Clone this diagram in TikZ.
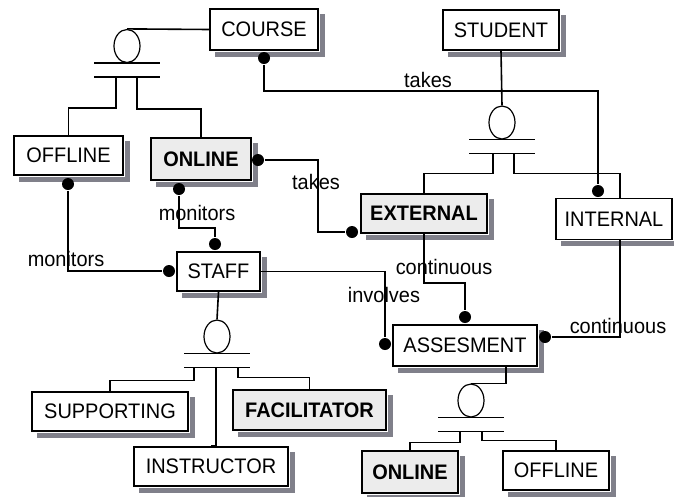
\documentclass[tikz,border=0pt]{standalone}
\usepackage{fontspec}
\setmainfont{Liberation Sans}[FakeStretch=0.95]
\usetikzlibrary{shapes.geometric,positioning,calc}

\definecolor{shadowgrey}{RGB}{128,128,138}
\definecolor{weakgrey}{RGB}{236,236,236}

% shadow strips right of and below an entity box
\newcommand{\entshadow}[1]{%
  \fill[shadowgrey] ($(#1.north east)+(0.8,6)$) rectangle ($(#1.south east)+(6,6)$);
  \fill[shadowgrey] ($(#1.south west)+(6,0.8)$) rectangle ($(#1.south east)+(6,6)$);}

\begin{document}
\begin{tikzpicture}[
    x=1pt, y=-1pt,
    line width=1.6pt,
    entity/.style={rectangle, draw, fill=white, inner sep=0pt, font=\fontsize{21}{24}\selectfont},
    weak/.style={entity, fill=weakgrey, font=\fontsize{21}{24}\selectfont\bfseries},
    isa/.style={ellipse, draw, line width=1.2pt, minimum width=26pt, minimum height=33pt, inner sep=0pt},
    dot/.style={circle, fill=black, inner sep=0pt, minimum size=12pt},
    lbl/.style={font=\fontsize{21}{24}\selectfont, inner sep=0pt}
]
\useasboundingbox (0,0) rectangle (674,496);

% Entities
\node[entity, minimum width=108pt, minimum height=41pt] (course) at (264,29.5) {COURSE};
\node[entity, minimum width=116pt, minimum height=40pt] (student) at (501,30) {STUDENT};
\node[entity, minimum width=109pt, minimum height=39pt] (offline) at (68.5,155.5) {OFFLINE};
\node[weak, minimum width=100pt, minimum height=42pt] (online) at (201,159) {ONLINE};
\node[weak, minimum width=126pt, minimum height=39pt] (external) at (424,213.5) {EXTERNAL};
\node[entity, minimum width=116pt, minimum height=41pt] (internal) at (614,219) {INTERNAL};
\node[entity, minimum width=83pt, minimum height=39pt] (staff) at (218.5,271.5) {STAFF};
\node[entity, minimum width=144pt, minimum height=41pt] (assesment) at (465,345.5) {ASSESMENT};
\node[entity, minimum width=156pt, minimum height=39pt] (supporting) at (110,411.5) {SUPPORTING};
\node[weak, minimum width=153pt, minimum height=40pt] (facilitator) at (309.5,410) {FACILITATOR};
\node[entity, minimum width=154pt, minimum height=39pt] (instructor) at (211,466.5) {INSTRUCTOR};
\node[weak, minimum width=96pt, minimum height=42pt] (online2) at (410,472) {ONLINE};
\node[entity, minimum width=106pt, minimum height=39pt] (offline2) at (556,470.5) {OFFLINE};

% Shadows
\entshadow{course}
\entshadow{student}
\entshadow{offline}
\entshadow{online}
\entshadow{external}
\entshadow{internal}
\entshadow{staff}
\entshadow{assesment}
\entshadow{supporting}
\entshadow{facilitator}
\entshadow{instructor}
\entshadow{online2}
\entshadow{offline2}

% Generalisation circles and bars
\node[isa] (isacourse) at (127,46) {};
\node[isa] (isastudent) at (502,122.5) {};
\node[isa] (isastaff) at (217,336.5) {};
\node[isa] (isaassess) at (471,400.5) {};
\foreach \g in {isacourse,isastudent,isastaff,isaassess} {
  \draw ($(\g.south)+(-33,0)$) -- ($(\g.south)+(33,0)$);
  \draw ($(\g.south)+(-33,14)$) -- ($(\g.south)+(33,14)$);
}

% Supertype links
\draw (course.west) -- (isacourse.north);
\draw (student.south) -- (isastudent.north);
\draw (staff.south) -- (isastaff.north);
\draw ($(assesment.south)+(41,0)$) |- (isaassess.north);

% Subtype links
\draw ($(isacourse.south)+(-11,14)$) -- ++(0,31) -| (offline.north);
\draw ($(isacourse.south)+(10,14)$) -- ++(0,32) -| (online.north);
\draw ($(isastudent.south)+(-9,14)$) -- ++(0,20) -| (external.north);
\draw ($(isastudent.south)+(12,14)$) -- ++(0,20) -| ($(internal.north)+(6,0)$);
\draw ($(isastaff.south)+(-23,14)$) -- ++(0,13) -| (supporting.north);
\draw ($(isastaff.south)+(-1,14)$) |- (instructor.north);
\draw ($(isastaff.south)+(21,14)$) -- ++(0,10) -| (facilitator.north);
\draw ($(isaassess.south)+(-11,14)$) -- ++(0,11) -| (online2.north);
\draw ($(isaassess.south)+(11,14)$) -- ++(0,9) -| (offline2.north);

% Relationship ends
\node[dot] (dcourse) at (264,58) {};
\node[dot] (dinternal) at (598,191) {};
\node[dot] (donline) at (258,160) {};
\node[dot] (dexternal) at (352,232) {};
\node[dot] (donlinemon) at (179,189) {};
\node[dot] (dstafftop) at (215,244) {};
\node[dot] (doffline) at (68,184) {};
\node[dot] (dstaffleft) at (169,271) {};
\node[dot] (dassessleft) at (385,344) {};
\node[dot] (dassesstop) at (465,317) {};
\node[dot] (dassessright) at (545,337) {};

% Relationships
\draw (dcourse.south) -- ++(0,26) -| (dinternal.north);
\draw (donline.east) -- ++(53,0) |- (dexternal.west);
\draw (donlinemon.south) -- ++(0,32) -| (dstafftop.north);
\draw (doffline.south) |- (dstaffleft.west);
\draw (staff.east) -| (dassessleft.north);
\draw (external.south) -- ++(0,49) -| (dassesstop.north);
\draw (dassessright.east) -| ($(internal.south)+(6,0)$);

% Labels
\node[lbl] (ltakes1) at (428,80) {takes};
\node[lbl] (ltakes2) at (316,182) {takes};
\node[lbl] (lmon1) at (197,213) {monitors};
\node[lbl] (lmon2) at (66,259) {monitors};
\node[lbl] (lcont1) at (444,267) {continuous};
\node[lbl] (linv) at (384,295) {involves};
\node[lbl] (lcont2) at (618,326) {continuous};

\end{tikzpicture}
\end{document}
